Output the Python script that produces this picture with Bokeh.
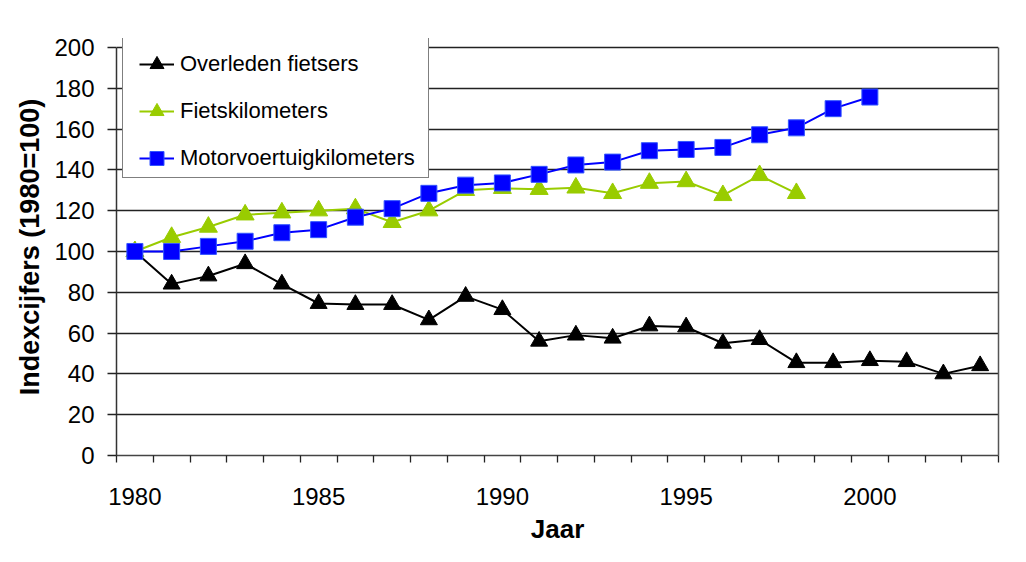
from bokeh.plotting import figure
from bokeh.models import Range1d, FixedTicker, Legend, LegendItem, LinearAxis
from bokeh.embed import file_html
from bokeh.resources import INLINE

years = list(range(1980, 2004))
overleden = [100, 84, 88, 94, 84, 74.5, 74, 74, 66.5, 78, 71.5, 56, 59, 57.5, 63.5, 63, 55, 56.8, 45.5, 45.5, 46.5, 46, 40, 44]
fiets_years = list(range(1980, 1999))
fietskm = [100, 107, 112, 118, 119, 120, 121, 114.3, 120, 130, 131, 130.5, 131.2, 128.5, 133.5, 134.3, 127.5, 137.3, 128.5]
motor_years = list(range(1980, 2001))
motorkm = [100, 100, 102.5, 105, 109.2, 110.7, 116.8, 121, 128.5, 132.5, 133.6, 137.8, 142.4, 143.8, 149.4, 150, 151, 157.2, 160.6, 170, 175.7]

x_labels = [1980, 1985, 1990, 1995, 2000]
y_ticks = list(range(0, 201, 20))
y_max = 200

FONT = "Liberation Sans"

# frame spans 38..457 px so the legend frame (which starts above the 200 line) is not clipped;
# the visible plot area still ends at the 200 line.
FRAME_TOP, FRAME_BOTTOM, PLOT_TOP = 38, 457, 47
y_top = y_max * (FRAME_BOTTOM - FRAME_TOP) / (FRAME_BOTTOM - PLOT_TOP)

p = figure(width=1010, height=546, output_backend="svg", toolbar_location=None,
           x_range=Range1d(1979.5, 2003.5), y_range=Range1d(0, y_top),
           min_border_left=116, min_border_right=12, min_border_top=FRAME_TOP, min_border_bottom=89)
p.background_fill_color = "white"
p.border_fill_color = "white"
p.outline_line_color = None

# grid
p.xgrid.visible = False
p.ygrid.ticker = FixedTicker(ticks=y_ticks)
p.ygrid.grid_line_color = "#222222"
p.ygrid.grid_line_width = 1.3

# x axis
xa = p.xaxis[0]
xa.ticker = FixedTicker(ticks=x_labels, minor_ticks=[y - 0.5 for y in years] + [years[-1] + 0.5])
xa.major_tick_out = 0
xa.major_tick_in = 0
xa.minor_tick_out = 7
xa.minor_tick_in = 0
xa.minor_tick_line_color = "#222222"
xa.minor_tick_line_width = 1.3
xa.axis_line_color = "#444444"
xa.axis_line_width = 1.5
xa.major_label_standoff = 25
xa.major_label_text_font = FONT
xa.major_label_text_font_size = "24px"
xa.major_label_text_color = "black"
xa.axis_label = "Jaar"
xa.axis_label_text_font = FONT
xa.axis_label_text_font_size = "26px"
xa.axis_label_text_font_style = "bold"
xa.axis_label_text_color = "black"
xa.axis_label_standoff = 6

# y axis
ya = p.yaxis[0]
ya.ticker = FixedTicker(ticks=y_ticks)
ya.bounds = (0, y_max)
ya.major_tick_out = 9
ya.major_tick_in = 0
ya.minor_tick_out = 0
ya.minor_tick_in = 0
ya.major_tick_line_color = "#222222"
ya.major_tick_line_width = 1.3
ya.axis_line_color = "#333333"
ya.axis_line_width = 1.5
ya.major_label_standoff = 13
ya.major_label_text_font = FONT
ya.major_label_text_font_size = "24px"
ya.major_label_text_color = "black"
ya.axis_label = "Indexcijfers (1980=100)"
ya.axis_label_text_font = FONT
ya.axis_label_text_font_size = "27px"
ya.axis_label_text_font_style = "bold"
ya.axis_label_text_color = "black"
ya.axis_label_standoff = 6

# right frame edge
ra = LinearAxis(ticker=FixedTicker(ticks=[]), bounds=(0, y_max),
                axis_line_color="#555555", axis_line_width=1.5,
                major_tick_out=0, major_tick_in=0, minor_tick_out=0, minor_tick_in=0,
                major_label_text_font_size="0px")
p.add_layout(ra, "right")

BLACK = "#000000"
GREEN = "#99CC00"
BLUE = "#0000FF"

l1 = p.line(years, overleden, line_color=BLACK, line_width=2)
m1 = p.scatter(years, overleden, marker="triangle", size=17, fill_color=BLACK, line_color=BLACK)

l2 = p.line(fiets_years, fietskm, line_color=GREEN, line_width=2)
m2 = p.scatter(fiets_years, fietskm, marker="triangle", size=18, fill_color=GREEN, line_color=GREEN)

l3 = p.line(motor_years, motorkm, line_color=BLUE, line_width=2)
m3 = p.scatter(motor_years, motorkm, marker="square", size=16, fill_color=BLUE, line_color="#3355FF")

# invisible renderer used only to give the legend frame its size
frame_r = p.line(years[:1], [float("nan")], line_alpha=0)

# legend frame (white box with black border)
legend_box = Legend(items=[LegendItem(label=" ", renderers=[frame_r])], location=(6, 277))
legend_box.glyph_width = 305
legend_box.glyph_height = 142
legend_box.label_height = 142
legend_box.label_width = 0
legend_box.label_standoff = 0
legend_box.label_text_font_size = "1px"
legend_box.padding = 0
legend_box.margin = 0
legend_box.spacing = 0
legend_box.border_line_color = "black"
legend_box.border_line_width = 1.2
legend_box.background_fill_color = "white"
legend_box.background_fill_alpha = 1.0
p.add_layout(legend_box, "center")

legend = Legend(items=[
    LegendItem(label="Overleden fietsers", renderers=[l1, m1]),
    LegendItem(label="Fietskilometers", renderers=[l2, m2]),
    LegendItem(label="Motorvoertuigkilometers", renderers=[l3, m3]),
], location=(19, 272))
legend.label_text_font = FONT
legend.label_text_font_size = "22px"
legend.label_text_color = "black"
legend.glyph_width = 35
legend.glyph_height = 42
legend.label_height = 42
legend.label_standoff = 6
legend.spacing = 5
legend.padding = 4
legend.margin = 0
legend.border_line_alpha = 0
legend.background_fill_alpha = 0
p.add_layout(legend, "center")

open("out.html", "w").write(file_html(p, INLINE))
